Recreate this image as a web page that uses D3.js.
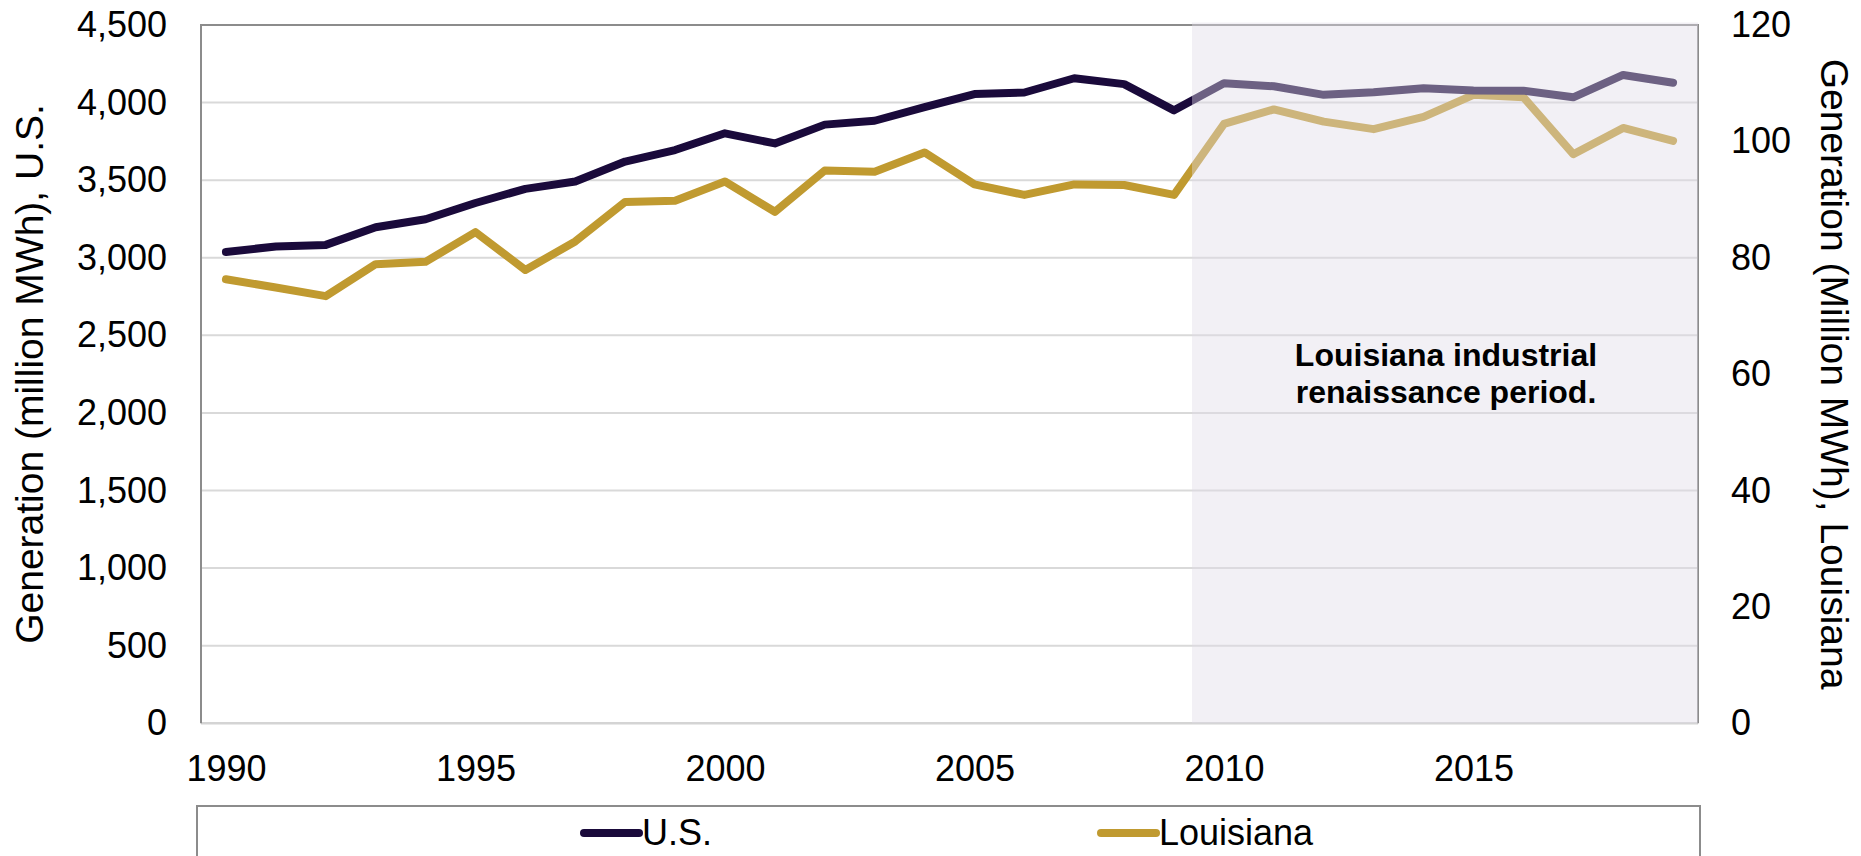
<!DOCTYPE html>
<html>
<head>
<meta charset="utf-8">
<script src="https://cdn.jsdelivr.net/npm/d3@7"></script>
<style>
  html, body { margin: 0; padding: 0; background: #ffffff; }
  svg { display: block; font-family: "Liberation Sans", Arial, sans-serif; }
</style>
</head>
<body>
<svg id="chart" width="1861" height="856"></svg>
<script>
// ---- data ----
const years = [1990,1991,1992,1993,1994,1995,1996,1997,1998,1999,2000,2001,2002,2003,2004,2005,2006,2007,2008,2009,2010,2011,2012,2013,2014,2015,2016,2017,2018,2019];
const usGeneration = [3037,3073,3083,3197,3248,3353,3444,3492,3620,3694,3802,3737,3858,3883,3971,4055,4065,4157,4119,3950,4125,4105,4050,4066,4093,4078,4077,4034,4178,4128];
const laGeneration = [76.3,74.9,73.4,78.9,79.3,84.4,77.9,82.8,89.6,89.8,93.1,87.9,95.0,94.8,98.1,92.6,90.8,92.6,92.5,90.8,103.0,105.5,103.4,102.1,104.2,108.0,107.6,97.8,102.3,100.1];
const xTickYears = [1990,1995,2000,2005,2010,2015];
const leftTicks = [0,500,1000,1500,2000,2500,3000,3500,4000,4500];
const rightTicks = [0,20,40,60,80,100,120];
const seriesNames = ["U.S.", "Louisiana"];
const shadeStartYear = 2009.36;
const annotationLines = ["Louisiana industrial", "renaissance period."];
const leftTitle = "Generation (million MWh), U.S.";
const rightTitle = "Generation (Million MWh), Louisiana";

// ---- layout ----
const svg = d3.select("#chart");
const L = 201, R = 1698, T = 25, B = 723.3;
const US_COLOR = "#1a0a3b", LA_COLOR = "#c09a30";

const x = d3.scaleLinear().domain([years[0] - 0.5, years[years.length - 1] + 0.5]).range([L, R]);
const yL = d3.scaleLinear().domain([0, 4500]).range([B, T]);
const yR = d3.scaleLinear().domain([0, 120]).range([B, T]);

// gridlines
svg.append("g").selectAll("line").data(leftTicks.filter(d => d > 0 && d < 4500)).join("line")
  .attr("x1", L).attr("x2", R).attr("y1", d => yL(d)).attr("y2", d => yL(d))
  .attr("stroke", "#d9d9d9").attr("stroke-width", 2);
// bottom axis line
svg.append("line").attr("x1", L).attr("x2", R).attr("y1", yL(0)).attr("y2", yL(0))
  .attr("stroke", "#d4d4d4").attr("stroke-width", 2.5);
// plot border (top, left, right)
svg.append("path")
  .attr("d", `M${L},${B} L${L},${T} L${R},${T} L${R},${B}`)
  .attr("fill", "none").attr("stroke", "#8c8c8c").attr("stroke-width", 2);

// lines
const lineUS = d3.line().x((d, i) => x(years[i])).y(d => yL(d));
const lineLA = d3.line().x((d, i) => x(years[i])).y(d => yR(d));
svg.append("path").datum(laGeneration).attr("d", lineLA)
  .attr("fill", "none").attr("stroke", LA_COLOR).attr("stroke-width", 8)
  .attr("stroke-linejoin", "round").attr("stroke-linecap", "round");
svg.append("path").datum(usGeneration).attr("d", lineUS)
  .attr("fill", "none").attr("stroke", US_COLOR).attr("stroke-width", 8)
  .attr("stroke-linejoin", "round").attr("stroke-linecap", "round");

// shaded overlay
svg.append("rect")
  .attr("x", x(shadeStartYear)).attr("y", T - 2.5)
  .attr("width", R - x(shadeStartYear)).attr("height", B - T + 2.5)
  .attr("fill", "rgb(224,219,232)").attr("fill-opacity", 0.42);

// annotation
const ann = svg.append("text").attr("text-anchor", "middle")
  .attr("font-weight", "bold").attr("font-size", 32).attr("fill", "#000");
annotationLines.forEach((t, i) => {
  ann.append("tspan").attr("x", 1446).attr("y", 366 + i * 37).text(t);
});

// axes
const fmt = d3.format(",");
const axL = svg.append("g").attr("transform", `translate(${L},0)`)
  .call(d3.axisLeft(yL).tickValues(leftTicks).tickFormat(fmt).tickSize(0).tickPadding(34));
const axR = svg.append("g").attr("transform", `translate(${R},0)`)
  .call(d3.axisRight(yR).tickValues(rightTicks).tickSize(0).tickPadding(33));
const axB = svg.append("g").attr("transform", `translate(0,${B})`)
  .call(d3.axisBottom(x).tickValues(xTickYears).tickFormat(d3.format("d")).tickSize(0).tickPadding(32));
[axL, axR, axB].forEach(g => {
  g.select(".domain").remove();
  g.selectAll("text").attr("font-size", 36).attr("fill", "#000")
    .attr("font-family", "'Liberation Sans', Arial, sans-serif");
});

// axis titles
svg.append("text").attr("transform", `translate(29,374) rotate(-90)`)
  .attr("text-anchor", "middle").attr("dy", "0.36em")
  .attr("font-size", 39).attr("fill", "#000").text(leftTitle);
svg.append("text").attr("transform", `translate(1835,374) rotate(90)`)
  .attr("text-anchor", "middle").attr("dy", "0.36em")
  .attr("font-size", 39).attr("fill", "#000").text(rightTitle);

// legend
svg.append("rect").attr("x", 197).attr("y", 806).attr("width", 1503).attr("height", 80)
  .attr("fill", "#fff").attr("stroke", "#8c8c8c").attr("stroke-width", 2);
const legendItems = [
  {name: seriesNames[0], color: US_COLOR, x0: 584},
  {name: seriesNames[1], color: LA_COLOR, x0: 1101}
];
const lg = svg.append("g").selectAll("g").data(legendItems).join("g");
lg.append("line").attr("x1", d => d.x0).attr("x2", d => d.x0 + 55)
  .attr("y1", 833).attr("y2", 833).attr("stroke", d => d.color)
  .attr("stroke-width", 8).attr("stroke-linecap", "round");
lg.append("text").attr("x", d => d.x0 + 58).attr("y", 845)
  .attr("font-size", 36).attr("fill", "#000").text(d => d.name);
</script>
</body>
</html>
